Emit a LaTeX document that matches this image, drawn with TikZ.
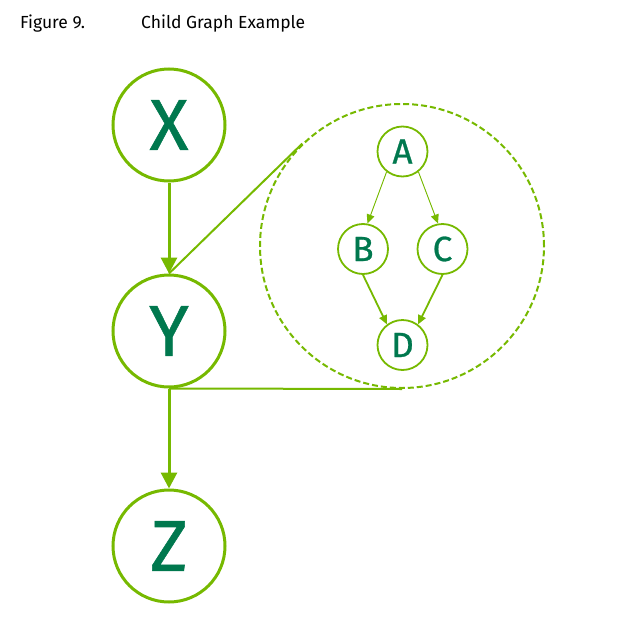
\documentclass[tikz,border=0pt]{standalone}
\usepackage{fontspec}
\setmainfont{Fira Sans}
\newfontfamily\letterfont[FakeBold=0.8]{Fira Sans}
\usetikzlibrary{arrows.meta,calc}
\definecolor{nvgreen}{HTML}{76B900}
\definecolor{nvtext}{HTML}{00784E}
\tikzset{bignode/.style={circle,draw=nvgreen,line width=3pt,minimum size=112pt,inner sep=0pt,text=nvtext,font=\letterfont\fontsize{72}{72}\selectfont},
smallnode/.style={circle,draw=nvgreen,line width=1.8pt,minimum size=50pt,inner sep=0pt,text=nvtext,font=\letterfont\fontsize{35}{35}\selectfont},
bigarr/.style={-{Triangle[width=16pt,length=16pt]},line width=3pt,draw=nvgreen,fill=nvgreen},
smallarr/.style={-{Triangle[width=8pt,length=9pt]},line width=1.8pt,draw=nvgreen,fill=nvgreen},
zoomline/.style={line width=2pt,draw=nvgreen}}
\begin{document}
\begin{tikzpicture}[x=1pt,y=-1pt]
\useasboundingbox (0,0) rectangle (616,621);
\node[anchor=base west,inner sep=0pt,font=\fontsize{17.5}{17.5}\selectfont] (fig) at (20,28) {Figure 9.};
\node[anchor=base west,inner sep=0pt,font=\fontsize{17.5}{17.5}\selectfont] (title) at (141,28) {Child Graph Example};
\node[bignode] (x) at (169,125) {X};
\node[bignode] (y) at (169,331) {Y};
\node[bignode] (z) at (169,546) {Z};
\draw[bigarr] (x.south)--(y.north);
\draw[bigarr] (y.south)--(z.north);
% child graph
\node[circle,draw=nvgreen,line width=2pt,dash pattern=on 6pt off 3pt,minimum size=284pt,inner sep=0pt] (child) at (402,246) {};
\draw[zoomline] (y.north)--(tangent cs:node=child,point={(y.north)},solution=2);
\draw[zoomline] (y.south)--(child.south);
\node[smallnode] (a) at (402.5,151.5) {A};
\node[smallnode] (b) at (363,249) {B};
\node[smallnode] (c) at (442.5,249) {C};
\node[smallnode] (d) at (402.5,345) {D};
\draw[smallarr,line width=0.9pt] (a.232)--(b.80);
\draw[smallarr,line width=0.9pt] (a.-52)--(c.100);
\draw[smallarr] (b.south)--(d.127);
\draw[smallarr] (c.south)--(d.53);
\end{tikzpicture}
\end{document}
